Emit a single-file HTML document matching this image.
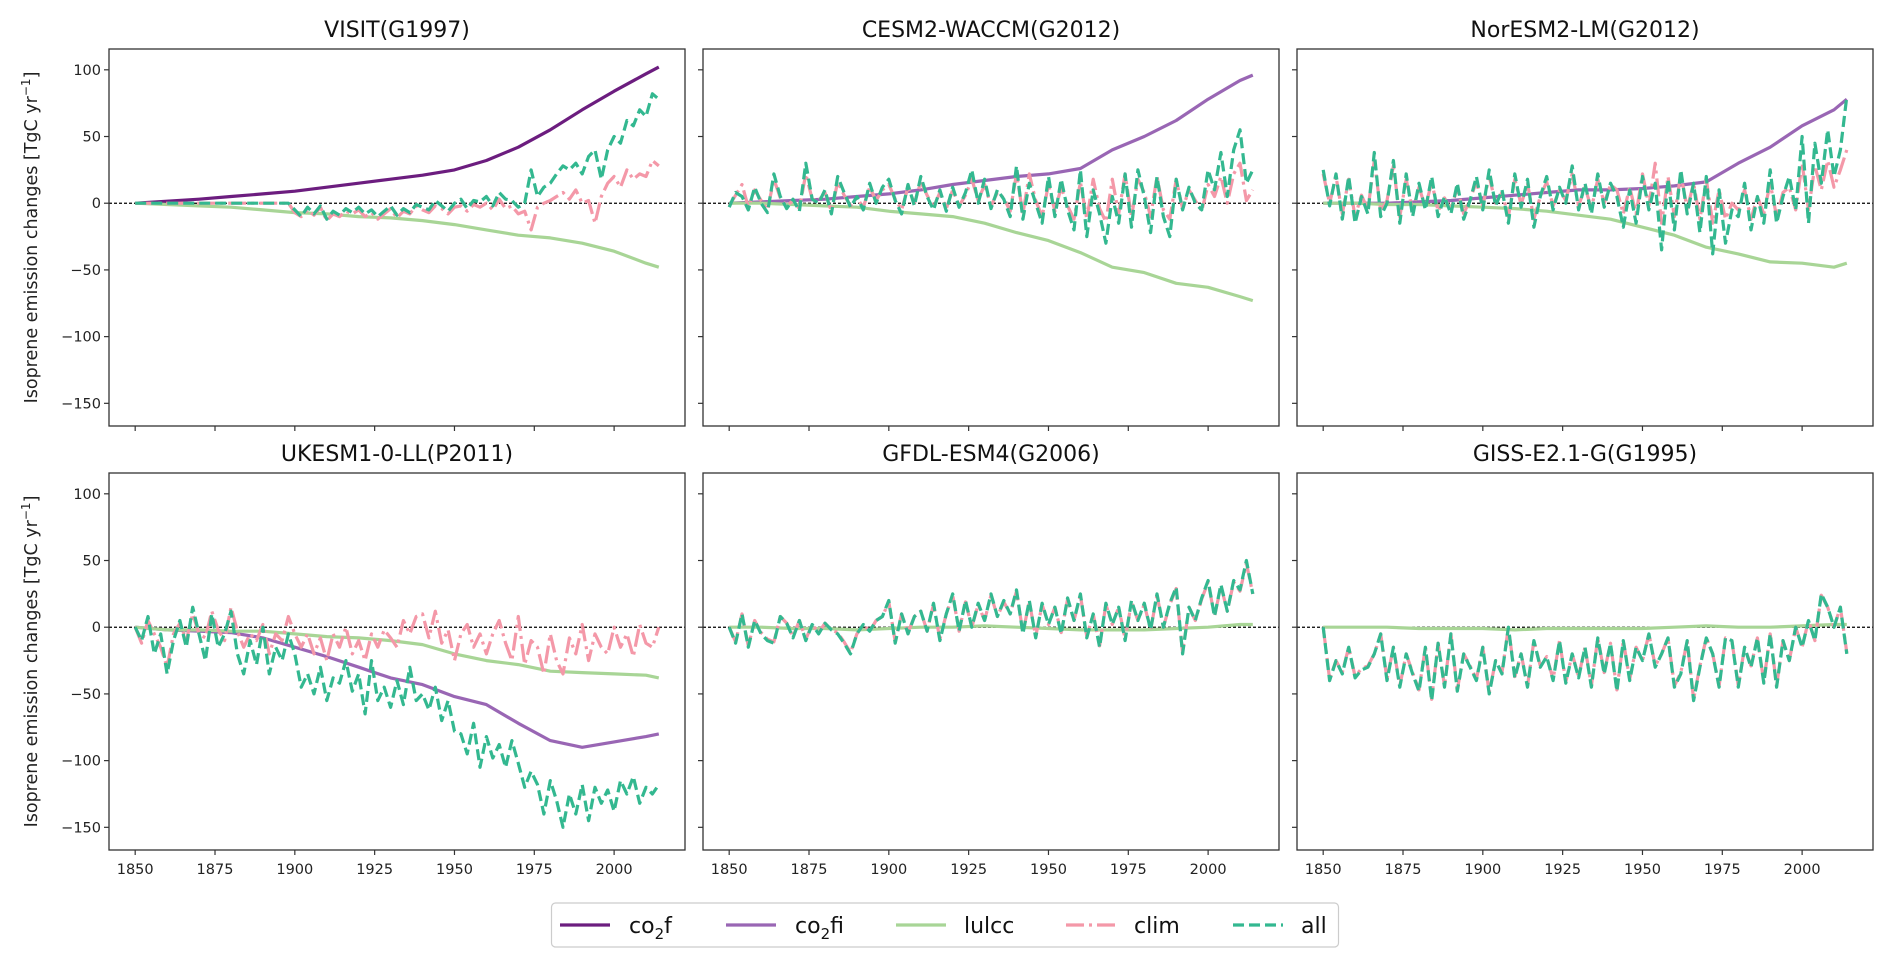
<!DOCTYPE html>
<html><head><meta charset="utf-8"><style>
body{margin:0;background:#fff;}
svg{display:block;font-family:"DejaVu Sans","Liberation Sans",sans-serif;}
</style></head><body>
<svg id="chart" width="1892" height="967" viewBox="0 0 1892 967" xmlns="http://www.w3.org/2000/svg"></svg>
<script>
// ---- data ----
const yearsSmooth=[1850,1860,1870,1880,1890,1900,1910,1920,1930,1940,1950,1960,1970,1980,1990,2000,2010,2014];
const yearsNoisy=[];for(let y=1850;y<=2014;y+=2)yearsNoisy.push(y);
const yTicks=[100,50,0,-50,-100,-150];
const xTicks=[1850,1875,1900,1925,1950,1975,2000];
const titles=["VISIT(G1997)","CESM2-WACCM(G2012)","NorESM2-LM(G2012)","UKESM1-0-LL(P2011)","GFDL-ESM4(G2006)","GISS-E2.1-G(G1995)"];
// VISIT
const visitCo2f=[0,1.5,3,5,7,9,12,15,18,21,25,32,42,55,70,84,97,102];
const visitLulcc=[0,-1,-2,-3,-5,-7,-8,-10,-11,-13,-16,-20,-24,-26,-30,-36,-45,-48];
const visitAll=[0,0,0,0,0,0,0,0,0,0, 0,0,0,0,0,0,0,0,0,0, 0,0,0,0,0,
 -5,-10,-3,-8,-2,-12,-6,-9,-4,-7, -3,-8,-5,-10,-6,-2,-9,-4,-7,-1, -3,-5,2,-2,-6,0,3,-4,2,1,
 5,-2,8,3,2,-3,0,25,5,12, 15,22,28,25,30,22,35,40,18,40, 50,45,62,58,70,65,82,78];
const visitClim=[0,0,0,0,0,0,0,0,0,0, 0,0,0,0,0,0,0,0,0,0, 0,0,0,0,0,
 -7,-10,-5,-9,-3,-13,-8,-10,-6,-8, -5,-10,-7,-12,-8,-4,-11,-6,-8,-2, -5,-7,-2,-4,-8,-3,-2,-6,-1,-3,
 0,-5,3,-4,-2,-8,-6,-20,-3,0, 2,5,8,3,10,0,2,-15,5,15, 20,12,25,18,22,20,32,28];
// CESM
const cesmCo2fi=[0,1,2,3,5,7,10,14,17,20,22,26,40,50,62,78,92,96];
const cesmLulcc=[0,0,-1,-2,-3,-6,-8,-10,-15,-22,-28,-37,-48,-52,-60,-63,-70,-73];
const cesmAll=[-3,8,5,-5,12,0,-7,22,5,-4, 3,-6,30,3,0,10,-8,20,8,-3, 5,-5,15,0,12,
 18,2,-8,14,-2,20,5,-5,10,-6, 12,-3,8,25,0,18,-4,10,3,-10, 28,-12,15,0,-15,20,-10,18,-5,-20,
 25,-25,10,-8,-30,5,-15,22,-18,25, 5,-22,20,-10,-25,18,-5,12,0,-5, 25,10,38,5,40,55,15,25];
const cesmClim=[-2,6,14,-3,10,2,-5,18,4,-2, 2,-4,22,3,2,8,-6,16,6,-2, 4,-3,12,2,10,
 14,3,-5,12,0,16,6,-3,8,-4, 10,-2,6,18,2,14,-2,8,4,-6, 22,-8,22,2,-10,14,-6,12,-2,-12,
 16,-12,18,-4,-14,18,-8,22,-10,18, 8,-10,20,-5,-12,18,-4,10,2,-6, 14,5,20,0,22,30,2,10];
// NorESM
const norCo2fi=[0,0,0,1,2,4,6,8,10,10,11,13,16,30,42,58,70,78];
const norLulcc=[0,0,-1,-1,-2,-3,-4,-6,-9,-12,-18,-24,-33,-38,-44,-45,-48,-45];
const norAll=[25,-2,22,-12,20,-15,5,-8,38,-10, 0,32,-15,22,-10,15,-5,20,-10,5, -8,15,-12,2,20,
 -5,25,-2,10,-15,22,-3,18,-18,5, 20,-5,12,0,28,-5,15,-8,22,-3, 15,5,-18,10,-15,20,-5,15,-35,18,
 -20,25,-8,15,-22,20,-38,10,-30,-5, -10,15,-20,5,-15,25,-15,5,20,-5, 50,-15,45,15,55,20,40,80];
const norClim=[22,0,20,-8,18,-10,6,-5,32,-6, 2,28,-10,18,-6,12,-3,16,-6,4, -5,12,-8,3,16,
 -2,20,0,8,-10,18,-1,15,-12,5, 16,-2,10,2,22,-2,12,-4,18,0, 14,10,-8,12,-8,22,-2,30,-15,20,
 -10,22,-4,15,-12,18,-15,10,-12,0, -5,10,-12,5,-8,15,-10,8,12,-5, 30,-5,28,10,32,12,25,40];
// UKESM
const ukCo2fi=[0,-2,-3,-4,-8,-15,-22,-30,-38,-43,-52,-58,-72,-85,-90,-86,-82,-80];
const ukLulcc=[0,-2,-2,-3,-3,-5,-7,-8,-10,-13,-20,-25,-28,-33,-34,-35,-36,-38];
const ukAll=[0,-10,8,-20,-5,-35,-10,5,-15,15, -5,-25,10,-15,-5,12,-20,-35,-10,-28, 0,-35,-15,-25,-5,
 -20,-45,-35,-50,-30,-55,-38,-42,-25,-48, -35,-65,-25,-55,-45,-60,-40,-58,-30,-55, -50,-62,-45,-70,-55,-78,-80,-95,-72,-105,
 -82,-98,-88,-105,-85,-102,-120,-108,-118,-140, -115,-130,-150,-125,-140,-118,-145,-120,-132,-122, -138,-115,-125,-112,-132,-120,-125,-118];
const ukClim=[0,-12,5,-5,-15,-30,-5,3,-10,10, -5,-8,12,-2,-10,15,-3,-15,-5,-10, 2,-20,-5,-10,8,
 -5,-15,-5,-20,-8,-25,-5,-15,0,-20, -10,-25,-5,-15,-2,-8,-15,5,-5,8, 10,-8,12,-12,-2,-25,-5,2,-15,-5,
 -20,-5,5,-12,-25,8,-28,-10,-15,-35, -5,-25,-35,-8,-20,2,-25,-5,-15,-20, 0,-15,-5,-22,2,-12,-15,0];
// GFDL
const gfdlLulcc=[0,0,-1,-1,-2,-1,0,0,1,0,-1,-2,-2,-2,-1,0,2,2];
const gfdlAll=[0,-12,10,-15,5,-5,-10,-12,8,3, -8,5,-10,2,-5,3,-2,-5,-12,-20, -5,2,-3,5,8,
 20,-12,10,-5,8,12,-3,18,-10,10, 25,-3,20,0,18,5,25,8,20,10, 28,-5,20,-8,18,2,15,-5,22,5,
 25,-8,10,-15,18,2,15,-10,20,5, 18,-2,25,0,18,30,-20,15,5,22, 35,8,32,12,35,28,50,25];
const gfdlClim=[0,-11,10,-14,5,-4,-9,-11,8,3, -7,5,-9,2,-4,3,-2,-4,-11,-19, -5,2,-3,5,8,
 19,-11,10,-4,8,12,-3,17,-9,10, 24,-3,19,0,17,5,24,8,19,10, 27,-4,19,-7,17,2,15,-4,21,5,
 24,-7,10,-14,17,2,15,-9,19,5, 17,-2,24,0,17,29,-19,15,5,21, 34,8,31,12,34,27,48,25];
// GISS
const gissLulcc=[0,0,0,-1,-1,-1,-2,-1,-1,-1,-1,0,1,0,0,1,2,2];
const gissAll=[0,-40,-25,-35,-15,-38,-32,-30,-20,-5, -40,-15,-45,-20,-35,-48,-15,-55,-12,-45, -5,-48,-20,-30,-40,
 -15,-50,-25,-35,0,-38,-20,-45,-10,-30, -22,-40,-10,-42,-20,-38,-15,-45,-8,-35, -12,-48,-10,-40,-15,-25,-5,-30,-20,-8,
 -45,-35,-10,-55,-30,-8,-20,-45,-8,-10, -45,-15,-30,-8,-42,-5,-45,-10,-25,0, -15,5,-10,25,15,0,15,-20];
const gissClim=[0,-39,-25,-34,-15,-37,-31,-29,-20,-5, -39,-15,-44,-20,-34,-47,-15,-54,-12,-44, -5,-47,-20,-29,-39,
 -15,-49,-25,-34,0,-37,-20,-44,-10,-29, -22,-39,-10,-41,-20,-37,-15,-44,-8,-34, -12,-47,-10,-39,-15,-25,-5,-29,-20,-8,
 -44,-34,-10,-54,-29,-8,-20,-44,-8,-10, -44,-15,-29,-8,-41,-5,-44,-10,-25,0, -15,5,-10,24,15,0,15,-19];

const COL={co2f:"#6c1d7f",co2fi:"#9966b4",lulcc:"#a8d596",clim:"#f498a8",all:"#33b890"};
const panels=[
 {series:[["co2f",visitCo2f,yearsSmooth],["lulcc",visitLulcc,yearsSmooth],["clim",visitClim,yearsNoisy],["all",visitAll,yearsNoisy]]},
 {series:[["co2fi",cesmCo2fi,yearsSmooth],["lulcc",cesmLulcc,yearsSmooth],["clim",cesmClim,yearsNoisy],["all",cesmAll,yearsNoisy]]},
 {series:[["co2fi",norCo2fi,yearsSmooth],["lulcc",norLulcc,yearsSmooth],["clim",norClim,yearsNoisy],["all",norAll,yearsNoisy]]},
 {series:[["co2fi",ukCo2fi,yearsSmooth],["lulcc",ukLulcc,yearsSmooth],["clim",ukClim,yearsNoisy],["all",ukAll,yearsNoisy]]},
 {series:[["lulcc",gfdlLulcc,yearsSmooth],["clim",gfdlClim,yearsNoisy],["all",gfdlAll,yearsNoisy]]},
 {series:[["lulcc",gissLulcc,yearsSmooth],["clim",gissClim,yearsNoisy],["all",gissAll,yearsNoisy]]}
];
const NS="http://www.w3.org/2000/svg";
const svg=document.getElementById('chart');
function mk(tag,attrs,parent){const e=document.createElementNS(NS,tag);for(const k in attrs)e.setAttribute(k,attrs[k]);(parent||svg).appendChild(e);return e;}
const colX=[109,703,1297], rowY=[49,473], PW=576, PH=377;
const XMIN=1841.8, XMAX=2022.2, YMIN=-167, YMAX=115.6;
panels.forEach((p,i)=>{
  const c=i%3,r=Math.floor(i/3),x0=colX[c],y0=rowY[r];
  const g=mk('g',{});
  
  
  const sx=v=>x0+(v-XMIN)/(XMAX-XMIN)*PW;
  const sy=v=>y0+(YMAX-v)/(YMAX-YMIN)*PH;
  const t=mk('text',{x:x0+PW/2,y:y0-12,'text-anchor':'middle','font-size':22,fill:'#111'},g);
  t.textContent=titles[i];
  
  
  const clip=mk('clipPath',{id:'cl'+i},g);mk('rect',{x:x0,y:y0,width:PW,height:PH},clip);
  const z=mk('line',{x1:x0,x2:x0+PW,y1:sy(0),y2:sy(0),stroke:'#000','stroke-width':1.3,'stroke-dasharray':'3,2'},g);
  
  
  p.series.forEach(([name,vals,yrs])=>{
    const d=vals.map((v,k)=>(k?'L':'M')+sx(yrs[k]).toFixed(1)+','+sy(v).toFixed(1)).join('');
    const a={d:d,fill:'none',stroke:COL[name],'stroke-width':3.2,'stroke-linejoin':'round','clip-path':'url(#cl'+i+')'};
    if(name==='all')a['stroke-dasharray']='11,5';
    if(name==='clim')a['stroke-dasharray']='18,5,3,5';
    const pth=mk('path',a,g);
    
    
  });
  const fr=mk('rect',{x:x0,y:y0,width:PW,height:PH,fill:'none',stroke:'#333','stroke-width':1.3},g);
  
  
  yTicks.forEach(v=>{
    mk('line',{x1:x0-5,x2:x0,y1:sy(v),y2:sy(v),stroke:'#333','stroke-width':1.2},g);
    if(c===0){const tl=mk('text',{x:x0-8,y:sy(v)+5,'text-anchor':'end','font-size':14.5,fill:'#222'},g);
      tl.textContent=v<0?'\u2212'+(-v):String(v);
      
      }
  });
  xTicks.forEach(v=>{
    mk('line',{x1:sx(v),x2:sx(v),y1:y0+PH,y2:y0+PH+5,stroke:'#333','stroke-width':1.2},g);
    if(r===1){const tl=mk('text',{x:sx(v),y:y0+PH+24,'text-anchor':'middle','font-size':14.5,fill:'#222'},g);
      tl.textContent=v;
      
      }
  });
  if(c===0){
    const cy=y0+PH/2;
    const yl=mk('text',{x:0,y:0,transform:`translate(37,${cy}) rotate(-90)`,'text-anchor':'middle','font-size':17.5,fill:'#222'},g);
    yl.innerHTML='Isoprene emission changes [TgC yr<tspan dy="-7" font-size="12">\u22121</tspan><tspan dy="7">]</tspan>';
    
    
  }
});
// legend
const lg=mk('g',{});


mk('rect',{x:551.5,y:903,width:787,height:44,rx:4,fill:'#fff',stroke:'#ccc','stroke-width':1.2},lg);
const legItems=[["co2f",560,629,"co","f"],["co2fi",726,795,"co","fi"],["lulcc",896,964,"lulcc",""],["clim",1066,1134,"clim",""],["all",1233,1301,"all",""]];
legItems.forEach(([k,lx,tx,a,b])=>{
  const e=mk('g',{},lg);
  
  
  const la={x1:lx,x2:lx+50,y1:925,y2:925,stroke:COL[k],'stroke-width':3.2};
  if(k==='all')la['stroke-dasharray']='11,5';
  if(k==='clim')la['stroke-dasharray']='18,5,3,5';
  mk('line',la,e);
  const t=mk('text',{x:tx,y:933,'font-size':22,fill:'#111'},e);
  if(b)t.innerHTML=a+'<tspan dy="6" font-size="15">2</tspan><tspan dy="-6">'+b+'</tspan>';
  else t.textContent=a;
});
</script>
</body></html>
